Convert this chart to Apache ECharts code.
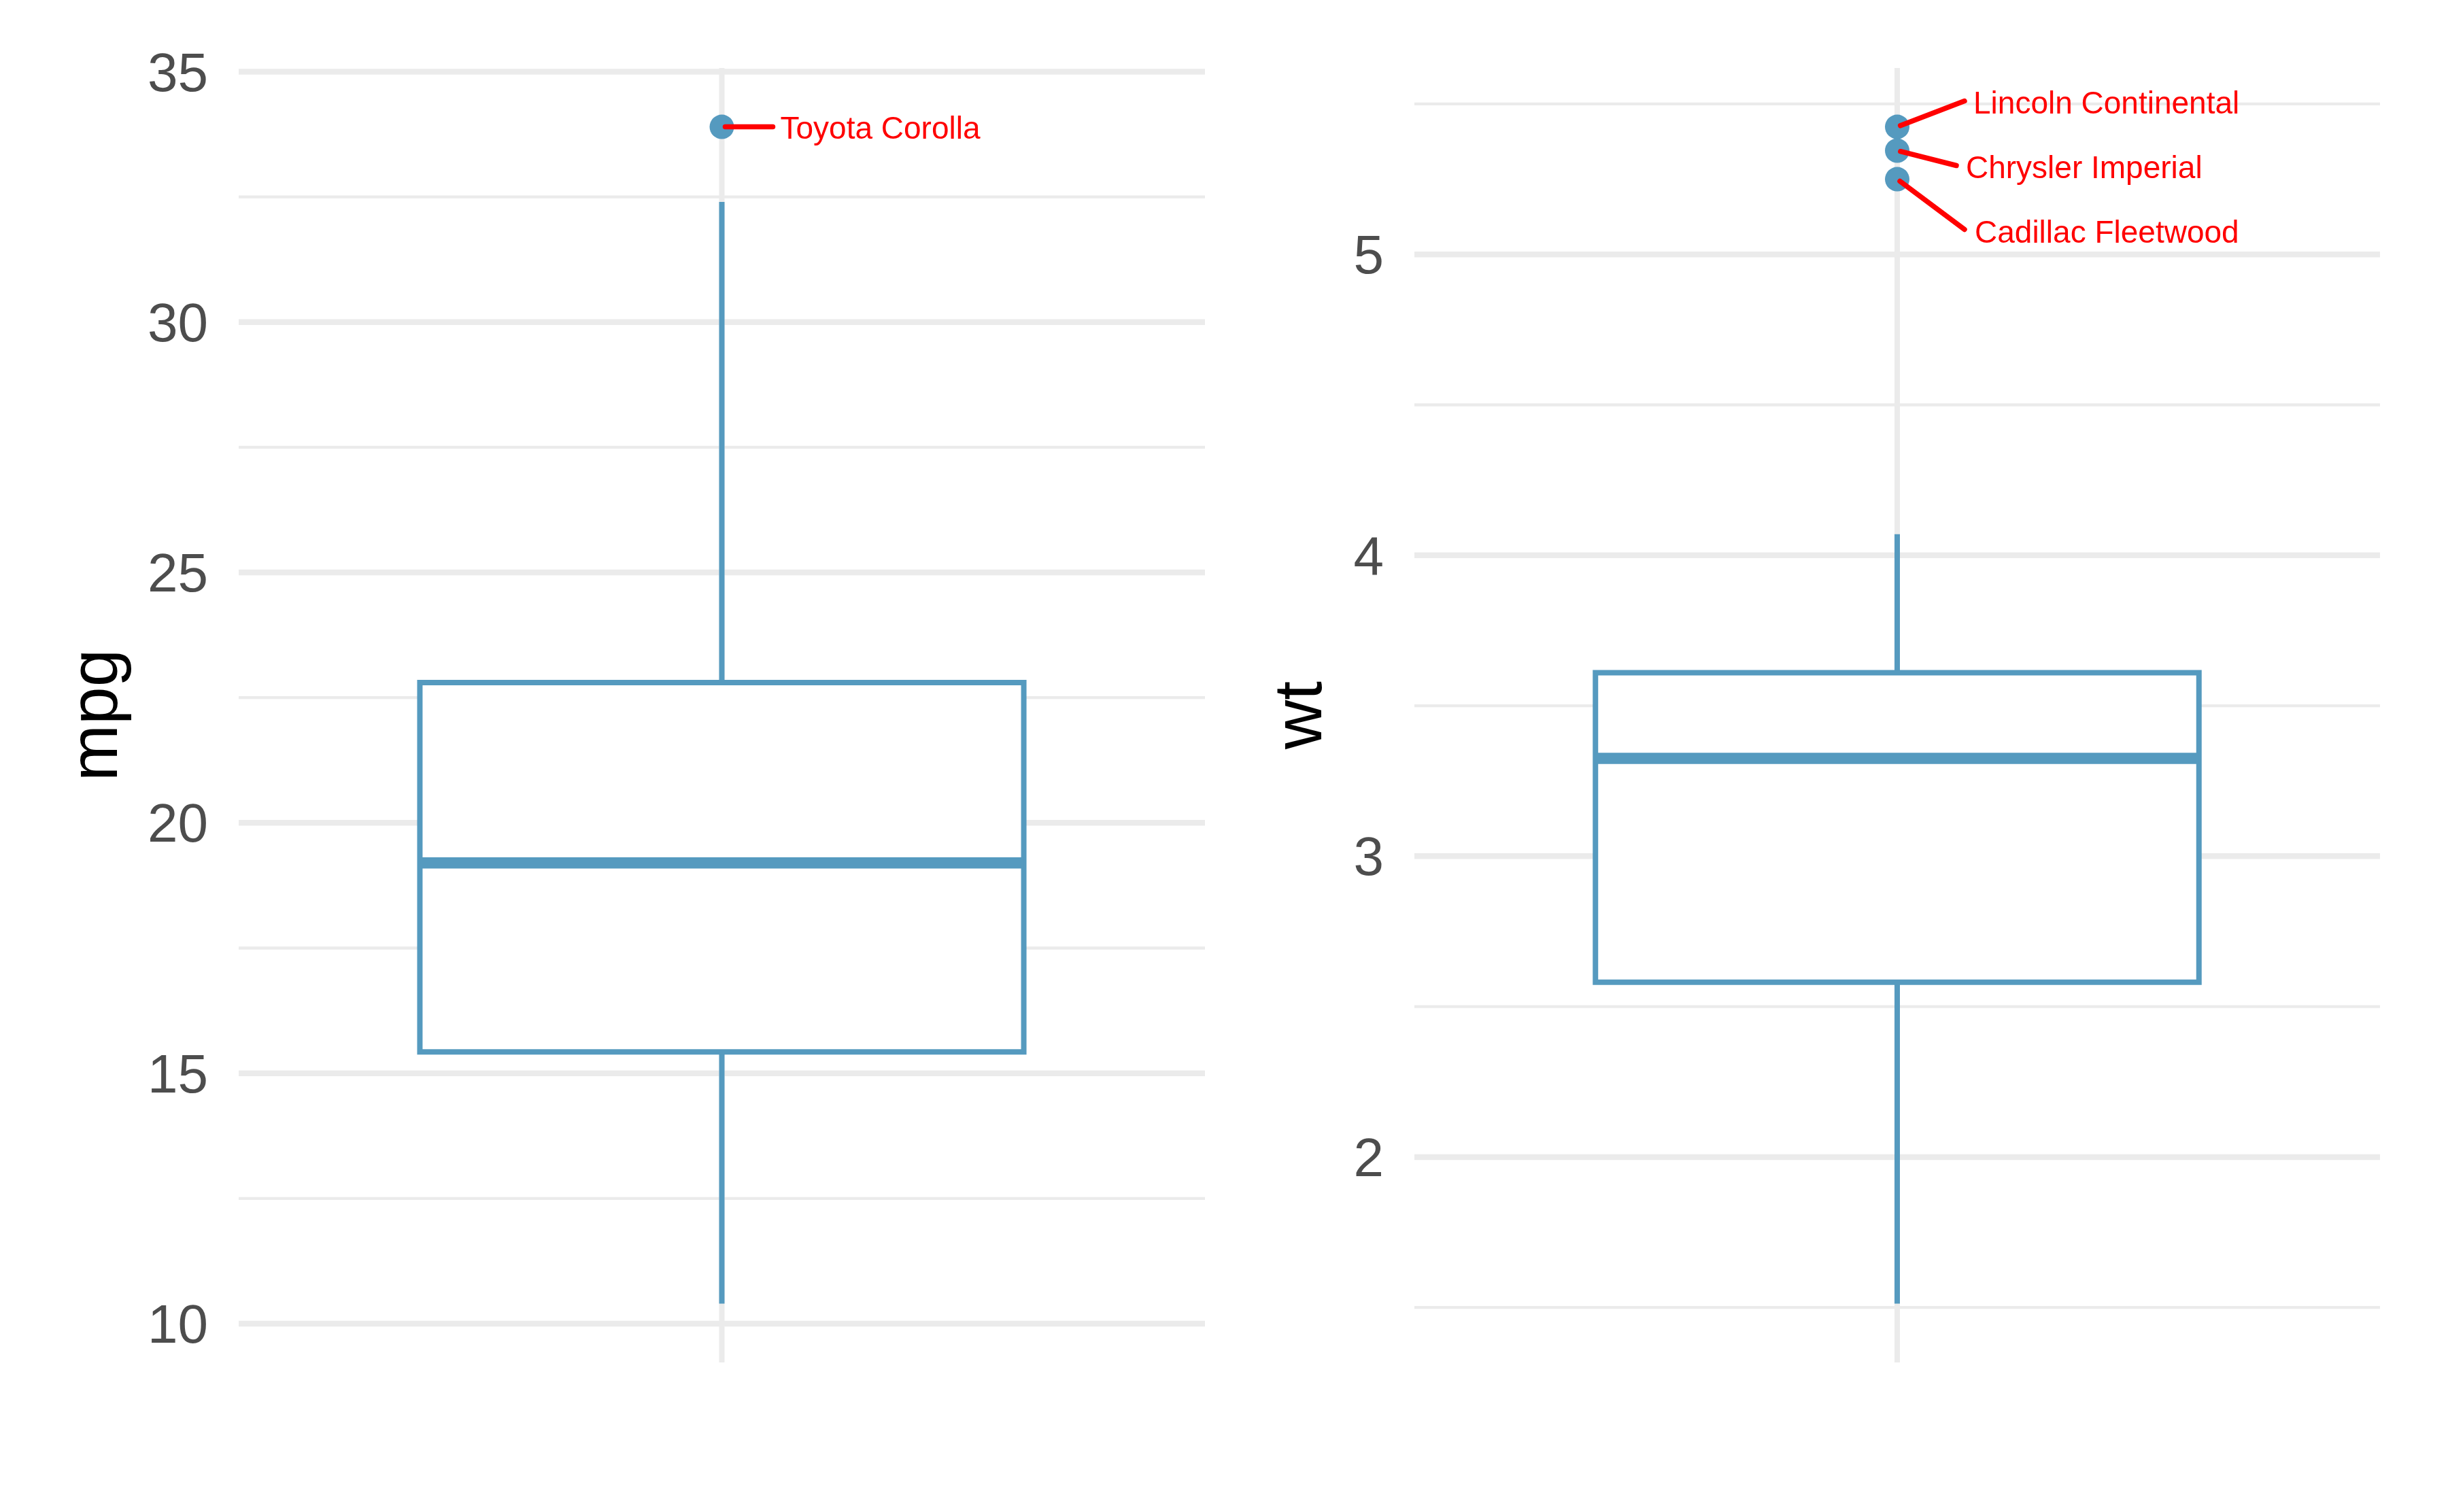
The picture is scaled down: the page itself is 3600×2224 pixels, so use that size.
<!DOCTYPE html>
<html>
<head>
<meta charset="utf-8">
<script src="https://cdn.jsdelivr.net/npm/echarts@6/dist/echarts.min.js"></script>
<style>html,body{margin:0;padding:0;background:#fff}#c{width:3600px;height:2224px}</style>
</head>
<body>
<div id="c"></div>
<script>
// ---------- data ----------
const panels = ['mpg', 'wt'];
// [lower whisker, Q1, median, Q3, upper whisker]
const mpgBox = [10.4, 15.425, 19.2, 22.8, 32.4];
const wtBox = [1.513, 2.58125, 3.325, 3.61, 4.07];
const mpgOutlierNames = ['Toyota Corolla'];
const mpgOutlierValues = [33.9];
const wtOutlierNames = ['Lincoln Continental', 'Chrysler Imperial', 'Cadillac Fleetwood'];
const wtOutlierValues = [5.424, 5.345, 5.25];
const mpgTicks = [10, 15, 20, 25, 30, 35];
const wtTicks = [2, 3, 4, 5];
const mpgMinor = [12.5, 17.5, 22.5, 27.5, 32.5];
const wtMinor = [1.5, 2.5, 3.5, 4.5, 5.5];

// ---------- styles ----------
const FONT = "'Liberation Sans', Arial, Helvetica, sans-serif";
const BOX_COLOR = '#559ABF';
const GRID_COLOR = '#EBEBEB';
const BOX_FRAC = 0.625;
const LABEL_LAYOUT = {
  'Toyota Corolla':      { seg: [75, 0],   text: [86, 5] },
  'Lincoln Continental': { seg: [99, -38], text: [112, -32] },
  'Chrysler Imperial':   { seg: [87, 22],  text: [101, 28] },
  'Cadillac Fleetwood':  { seg: [99, 74],  text: [114, 81] }
};
const GRIDS = [
  { left: 351, top: 100, width: 1421, height: 1904 },
  { left: 2080, top: 100, width: 1420, height: 1904 }
];
const TITLE_X = [144, 1915];

const boxes = [mpgBox, wtBox];
const outNames = [mpgOutlierNames, wtOutlierNames];
const outValues = [mpgOutlierValues, wtOutlierValues];
const ticks = [mpgTicks, wtTicks];
const minors = [mpgMinor, wtMinor];

function expandRange(vals) {
  const lo = Math.min(...vals), hi = Math.max(...vals);
  const d = hi - lo;
  return [lo - 0.05 * d, hi + 0.05 * d];
}

function hLineRender(width) {
  return function (params, api) {
    const cs = params.coordSys;
    const y = api.coord([api.value(0), api.value(1)])[1];
    return { type: 'line', silent: true,
      shape: { x1: cs.x, y1: y, x2: cs.x + cs.width, y2: y },
      style: { stroke: GRID_COLOR, lineWidth: width, lineCap: 'butt' } };
  };
}
function vLineRender(width) {
  return function (params, api) {
    const cs = params.coordSys;
    const x = api.coord([api.value(0), api.value(1)])[0];
    return { type: 'line', silent: true,
      shape: { x1: x, y1: cs.y, x2: x, y2: cs.y + cs.height },
      style: { stroke: GRID_COLOR, lineWidth: width, lineCap: 'butt' } };
  };
}
function boxRender(params, api) {
  const c = api.value(0);
  const pMin = api.coord([c, api.value(1)]);
  const pQ1 = api.coord([c, api.value(2)]);
  const pMed = api.coord([c, api.value(3)]);
  const pQ3 = api.coord([c, api.value(4)]);
  const pMax = api.coord([c, api.value(5)]);
  const bw = api.size([1, 0])[0] * BOX_FRAC;
  const cx = pMed[0];
  const st = { stroke: BOX_COLOR, lineWidth: 8, fill: null };
  return { type: 'group', children: [
    { type: 'line', shape: { x1: cx, y1: pQ3[1], x2: cx, y2: pMax[1] }, style: st },
    { type: 'line', shape: { x1: cx, y1: pQ1[1], x2: cx, y2: pMin[1] }, style: st },
    { type: 'rect', shape: { x: cx - bw / 2, y: pQ3[1], width: bw, height: pQ1[1] - pQ3[1] },
      style: { fill: '#ffffff', stroke: BOX_COLOR, lineWidth: 8 } },
    { type: 'line', shape: { x1: cx - bw / 2, y1: pMed[1], x2: cx + bw / 2, y2: pMed[1] },
      style: { stroke: BOX_COLOR, lineWidth: 16.5 } }
  ] };
}
function labelRender(names) {
  return function (params, api) {
    const name = names[params.dataIndex];
    const lay = LABEL_LAYOUT[name];
    const p = api.coord([api.value(0), api.value(1)]);
    const len = Math.hypot(lay.seg[0], lay.seg[1]);
    const sx = p[0] + 5 * lay.seg[0] / len, sy = p[1] + 5 * lay.seg[1] / len;
    return { type: 'group', children: [
      { type: 'line', shape: { x1: sx, y1: sy, x2: p[0] + lay.seg[0], y2: p[1] + lay.seg[1] },
        style: { stroke: '#FF0000', lineWidth: 7.5, lineCap: 'round' } },
      { type: 'text', x: p[0] + lay.text[0], y: p[1] + lay.text[1],
        style: { text: name, fill: '#FF0000', fontSize: 46, fontFamily: FONT,
          align: 'left', verticalAlign: 'middle', textAlign: 'left', textVerticalAlign: 'middle' } }
    ] };
  };
}

const grid = [], xAxis = [], yAxis = [], series = [], graphic = [];
panels.forEach((name, i) => {
  const box = boxes[i];
  const range = expandRange(box.concat(outValues[i]));
  grid.push(Object.assign({ containLabel: false, outerBoundsMode: 'none' }, GRIDS[i]));
  xAxis.push({ type: 'category', gridIndex: i, data: [name], boundaryGap: true,
    axisLine: { show: false }, axisTick: { show: false }, axisLabel: { show: false },
    splitLine: { show: false } });
  yAxis.push({ type: 'value', gridIndex: i, min: range[0], max: range[1],
    axisLine: { show: false }, axisTick: { show: false }, splitLine: { show: false },
    axisLabel: { customValues: ticks[i], fontSize: 80, color: '#4D4D4D', fontFamily: FONT,
      margin: 45, verticalAlign: 'top', lineHeight: 12 } });
  const common = { type: 'custom', xAxisIndex: i, yAxisIndex: i, animation: false, silent: true, clip: false };
  series.push(Object.assign({}, common, { z: 1, renderItem: hLineRender(4.3),
    data: minors[i].filter(v => v >= range[0] && v <= range[1]).map(v => [name, v]) }));
  series.push(Object.assign({}, common, { z: 1, renderItem: hLineRender(8.5),
    data: ticks[i].map(v => [name, v]) }));
  series.push(Object.assign({}, common, { z: 1, renderItem: vLineRender(8), data: [[name, box[2]]] }));
  series.push(Object.assign({}, common, { z: 3, renderItem: boxRender,
    encode: { x: 0, y: [1, 2, 3, 4, 5] }, data: [[name].concat(box)] }));
  series.push({ type: 'scatter', xAxisIndex: i, yAxisIndex: i, z: 5, animation: false, silent: true,
    symbol: 'circle', symbolSize: 36, itemStyle: { color: BOX_COLOR, opacity: 1 },
    data: outValues[i].map(v => [name, v]) });
  series.push(Object.assign({}, common, { z: 6, renderItem: labelRender(outNames[i]),
    data: outValues[i].map(v => [name, v]) }));
  graphic.push({ type: 'text', x: TITLE_X[i], y: GRIDS[i].top + GRIDS[i].height / 2, rotation: Math.PI / 2,
    style: { text: name, fontSize: 100, fontFamily: FONT, fill: '#000000',
      align: 'center', verticalAlign: 'middle', textAlign: 'center', textVerticalAlign: 'middle' } });
});

const chart = echarts.init(document.getElementById('c'), null, { renderer: 'canvas' });
chart.setOption({ backgroundColor: '#ffffff', animation: false, grid, xAxis, yAxis, series, graphic });
</script>
</body>
</html>
